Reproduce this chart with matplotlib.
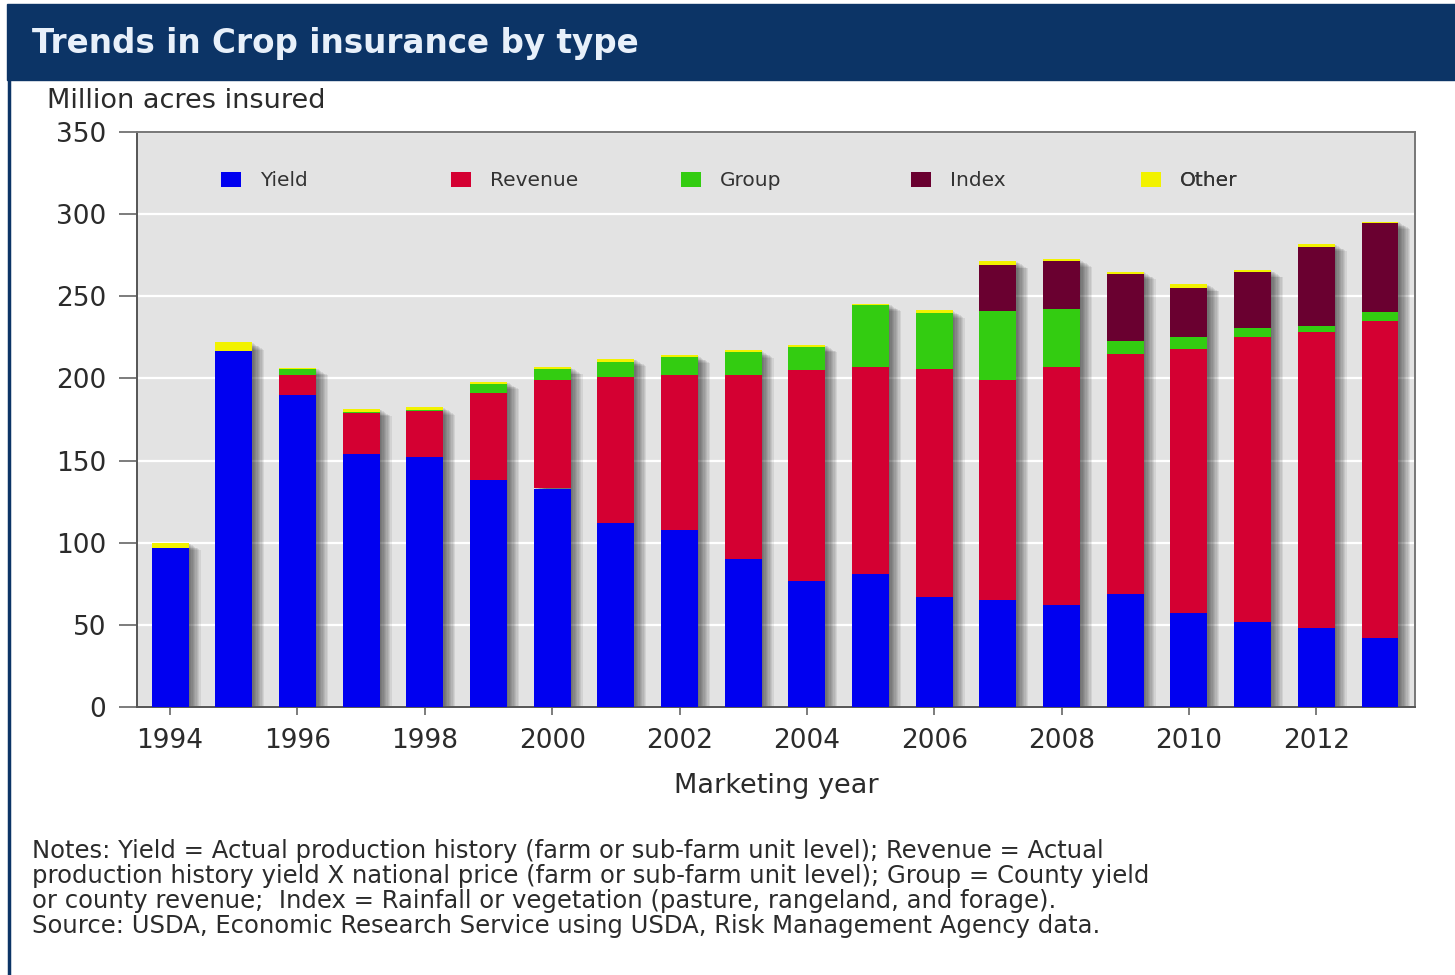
import matplotlib
matplotlib.use("Agg")
import matplotlib.pyplot as plt
from matplotlib.patches import Rectangle, Patch
from matplotlib.lines import Line2D
import numpy as np

years = list(range(1994, 2014))
yield_acres = [97, 217, 190, 154, 152, 138, 133, 112, 108, 90, 77, 81, 67, 65, 62, 69, 57, 52, 48, 42]
revenue = [0, 0, 12, 25, 28, 53, 66, 89, 94, 112, 128, 126, 139, 134, 145, 146, 161, 173, 180, 193]
group = [0, 0, 3.5, 0.5, 0.5, 5.5, 7, 9, 11, 14, 14, 38, 34, 42, 35, 8, 7, 5.5, 4, 5.5]
index = [0, 0, 0, 0, 0, 0, 0, 0, 0, 0, 0, 0, 0, 28, 29.5, 40.5, 30, 34, 48, 54]
other = [3, 5, 1, 2, 2, 1.5, 1, 2, 1, 1, 1.5, 0.5, 1.5, 2.5, 1, 1.5, 2.5, 1.5, 2, 1]

labels = ['Yield', 'Revenue', 'Group', 'Index', 'Other']
colors = ['#0000f0', '#d40032', '#33cc11', '#6a0030', '#f2f200']
series = [yield_acres, revenue, group, index, other]

navy = '#0c3466'
txt = '#2b2b2b'
plt.rcParams['font.family'] = 'DejaVu Sans'

fig = plt.figure(figsize=(14.55, 9.75), dpi=100)
W, H = 1455, 975

# title bar and left border
fig.patches.append(Rectangle((7 / W, 1 - 80 / H), 1 - 7 / W, 76 / H,
                             transform=fig.transFigure, color=navy, zorder=0))
fig.lines.append(Line2D([8.5 / W, 8.5 / W], [0, 1 - 80 / H], transform=fig.transFigure,
                        color=navy, lw=2.5))
fig.text(32 / W, 1 - 43 / H, 'Trends in Crop insurance by type', color='#e8f0fa',
         fontsize=23.5, fontweight='bold', va='center', ha='left')
fig.text(47 / W, 1 - 101 / H, 'Million acres insured', color=txt, fontsize=19.5,
         va='center', ha='left')

ax = fig.add_axes([137 / W, 1 - 707 / H, (1415 - 137) / W, (707 - 132) / H])
ax.set_facecolor('#e3e3e3')

x = np.array(years)
width = 0.58
total = np.sum(np.array(series, dtype=float), axis=0)

# soft drop shadow to the right of each bar
for i in range(1, 10):
    ax.bar(x + i * 0.021, total - i * 0.5, width, color='black', alpha=0.07,
           linewidth=0, zorder=2)

bottom = np.zeros(len(years))
handles = []
for vals, c, lab in zip(series, colors, labels):
    ax.bar(x, vals, width, bottom=bottom, color=c, linewidth=0, zorder=3)
    bottom += np.array(vals, dtype=float)
    handles.append(Patch(facecolor=c, edgecolor='none'))

ax.set_xlim(1993.48, 2013.55)
ax.set_ylim(0, 350)
ax.set_yticks(range(0, 351, 50))
ax.set_xticks(range(1994, 2013, 2))
ax.yaxis.grid(True, color='white', lw=1.6)
ax.set_axisbelow(True)
ax.tick_params(axis='y', length=13, width=1.2, color='#666666', pad=9,
               labelsize=19, labelcolor=txt)
ax.tick_params(axis='x', length=6, width=1.2, color='#666666', pad=9,
               labelsize=19, labelcolor=txt)
for s in ['left', 'bottom']:
    ax.spines[s].set_color('#555555')
    ax.spines[s].set_linewidth(1.4)
for s in ['top', 'right']:
    ax.spines[s].set_color('#777777')
    ax.spines[s].set_linewidth(1.4)
ax.set_xlabel('Marketing year', fontsize=19.5, color=txt, labelpad=14)

# legend entries spread evenly along the top
for k, (h, lab) in enumerate(zip(handles, labels)):
    leg = ax.legend([h], [lab], loc='center left',
                    bbox_to_anchor=((221 - 137) / 1278 + k * 230 / 1278, (707 - 181) / 575),
                    frameon=False, fontsize=14.5, handlelength=1.0, handleheight=0.7,
                    handletextpad=0.95, borderpad=0, borderaxespad=0, labelcolor='#333333')
    ax.add_artist(leg)

notes = ("Notes: Yield = Actual production history (farm or sub-farm unit level); Revenue = Actual\n"
         "production history yield X national price (farm or sub-farm unit level); Group = County yield\n"
         "or county revenue;  Index = Rainfall or vegetation (pasture, rangeland, and forage).\n"
         "Source: USDA, Economic Research Service using USDA, Risk Management Agency data.")
fig.text(32 / W, 1 - 839 / H, notes, color=txt, fontsize=17.5, va='top', ha='left',
         linespacing=1.05)

fig.savefig('out.png', dpi=100, facecolor='white')
